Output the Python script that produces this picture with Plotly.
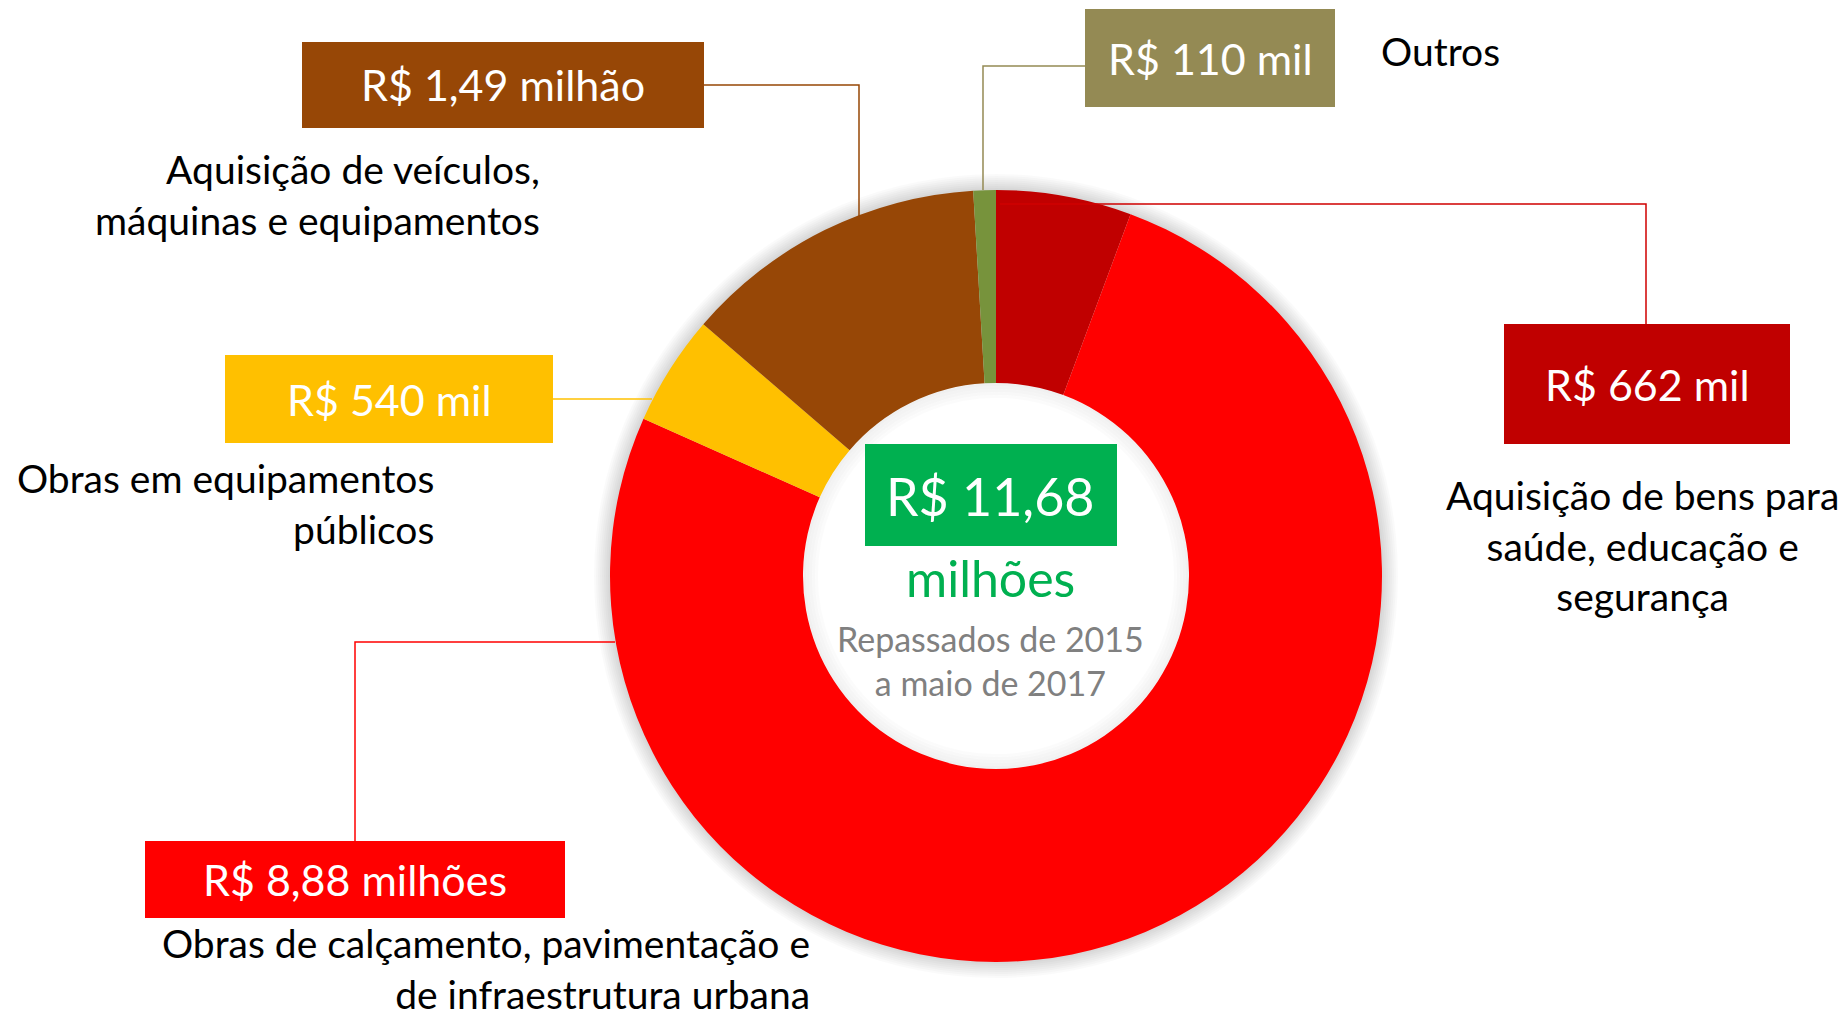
import plotly.graph_objects as go

# data
categorias = [
    "Aquisição de bens para saúde, educação e segurança",
    "Obras de calçamento, pavimentação e de infraestrutura urbana",
    "Obras em equipamentos públicos",
    "Aquisição de veículos, máquinas e equipamentos",
    "Outros",
]
valores = [0.662, 8.88, 0.54, 1.49, 0.11]  # R$ milhões
rotulos_valor = ["R$ 662 mil", "R$ 8,88 milhões", "R$ 540 mil", "R$ 1,49 milhão", "R$ 110 mil"]
rotulos_texto = [
    "Aquisição de bens para<br>saúde, educação e<br>segurança",
    "Obras de calçamento, pavimentação e<br>de infraestrutura urbana",
    "Obras em equipamentos<br>públicos",
    "Aquisição de veículos,<br>máquinas e equipamentos",
    "Outros",
]
cores = ["#C00000", "#FF0000", "#FFC000", "#974706", "#77933C"]
cores_caixa = ["#C00000", "#FF0000", "#FFC000", "#974706", "#948A54"]
total_txt = "R$ 11,68"

W, H = 1848, 1013
FONT = "Lato"

# donut geometry (pixels)
cx, cy, R = 996, 576, 386
hole = 0.5


def px(x):
    return x / W


def py(y):
    return 1 - y / H


fig = go.Figure()
fig.add_trace(go.Pie(
    labels=categorias,
    values=valores,
    hole=hole,
    sort=False,
    direction="clockwise",
    rotation=0,
    marker=dict(colors=cores, line=dict(width=0)),
    textinfo="none",
    hoverinfo="label+value",
    showlegend=False,
    domain=dict(x=[px(cx - R), px(cx + R)], y=[py(cy + R), py(cy - R)]),
))

shapes = []
# soft outer shadow
for d in range(16, 0, -2):
    shapes.append(dict(type="circle", xref="paper", yref="paper", layer="below",
                       x0=px(cx - R - d), x1=px(cx + R + d), y0=py(cy + R + d), y1=py(cy - R - d),
                       fillcolor="rgba(0,0,0,0.02)", line=dict(width=0)))
ri = R * hole
# keep the hole white
shapes.append(dict(type="circle", xref="paper", yref="paper", layer="below",
                   x0=px(cx - ri - 2), x1=px(cx + ri + 2), y0=py(cy + ri + 2), y1=py(cy - ri - 2),
                   fillcolor="white", line=dict(width=0)))
# inner shadow of the hole
for i, d in enumerate([1.5, 4.5, 7.5, 10.5, 13.5]):
    r = ri - d
    shapes.append(dict(type="circle", xref="paper", yref="paper", layer="above",
                       x0=px(cx - r), x1=px(cx + r), y0=py(cy + r), y1=py(cy - r),
                       line=dict(width=3, color="rgba(0,0,0,%.3f)" % (0.06 - i * 0.011))))

# label boxes: (x0, y0, x1, y1) in pixels
caixas = [
    (1504, 324, 1790, 444),
    (145, 841, 565, 918),
    (225, 355, 553, 443),
    (302, 42, 704, 128),
    (1085, 9, 1335, 107),
]
for (x0, y0, x1, y1), c in zip(caixas, cores_caixa):
    shapes.append(dict(type="rect", xref="paper", yref="paper",
                       x0=px(x0), x1=px(x1), y0=py(y1), y1=py(y0),
                       fillcolor=c, line=dict(width=0)))

# leader lines
linhas = [
    ([(1000, 204), (1646, 204), (1646, 324)], "#D00000"),
    ([(355, 841), (355, 642), (615, 642)], "#FF0000"),
    ([(553, 399), (652, 399)], "#FFC000"),
    ([(704, 85), (859, 85), (859, 216)], "#974706"),
    ([(1085, 66), (983, 66), (983, 190)], "#948A54"),
]
for pts, c in linhas:
    path = "M " + " L ".join("%f,%f" % (px(x), py(y)) for x, y in pts)
    shapes.append(dict(type="path", xref="paper", yref="paper", path=path,
                       line=dict(color=c, width=1.5), layer="above"))

# center green box
shapes.append(dict(type="rect", xref="paper", yref="paper",
                   x0=px(865), x1=px(1117), y0=py(546), y1=py(444),
                   fillcolor="#00B050", line=dict(width=0), layer="above"))

anns = []
for (x0, y0, x1, y1), t in zip(caixas, rotulos_valor):
    anns.append(dict(x=px((x0 + x1) / 2), y=py((y0 + y1) / 2), text=t, showarrow=False,
                     xref="paper", yref="paper", xanchor="center", yanchor="middle",
                     font=dict(family=FONT, size=43, color="white")))

# category descriptions: (x, y_top, align)
desc_pos = [
    (1642, 470, "center"),
    (812, 918, "right"),
    (436, 453, "right"),
    (542, 144, "right"),
    (1379, 51, "left"),
]
for (x, y, al), t in zip(desc_pos, rotulos_texto):
    if t == "Outros":
        anns.append(dict(x=px(x), y=py(y), text=t, showarrow=False, xref="paper", yref="paper",
                         xanchor="left", yanchor="middle",
                         font=dict(family=FONT, size=39, color="black")))
        continue
    xa = "center" if al == "center" else "right"
    anns.append(dict(x=px(x), y=py(y), text=t, showarrow=False, xref="paper", yref="paper",
                     xanchor=xa, yanchor="top", align=al,
                     font=dict(family=FONT, size=39, color="black")))

# center text
anns.append(dict(x=px(991), y=py(496), text=total_txt, showarrow=False, xref="paper", yref="paper",
                 xanchor="center", yanchor="middle", font=dict(family=FONT, size=52, color="white")))
anns.append(dict(x=px(991), y=py(578), text="milhões", showarrow=False, xref="paper", yref="paper",
                 xanchor="center", yanchor="middle", font=dict(family=FONT, size=50, color="#00B050")))
anns.append(dict(x=px(991), y=py(660), text="Repassados de 2015<br>a maio de 2017", showarrow=False,
                 xref="paper", yref="paper", xanchor="center", yanchor="middle",
                 font=dict(family=FONT, size=34, color="#808080")))

fig.update_layout(
    width=W, height=H,
    margin=dict(l=0, r=0, t=0, b=0),
    paper_bgcolor="white", plot_bgcolor="white",
    shapes=shapes, annotations=anns,
)

fig.write_html("out.html", config={"displayModeBar": False},
               post_script="document.body.style.margin='0';")
